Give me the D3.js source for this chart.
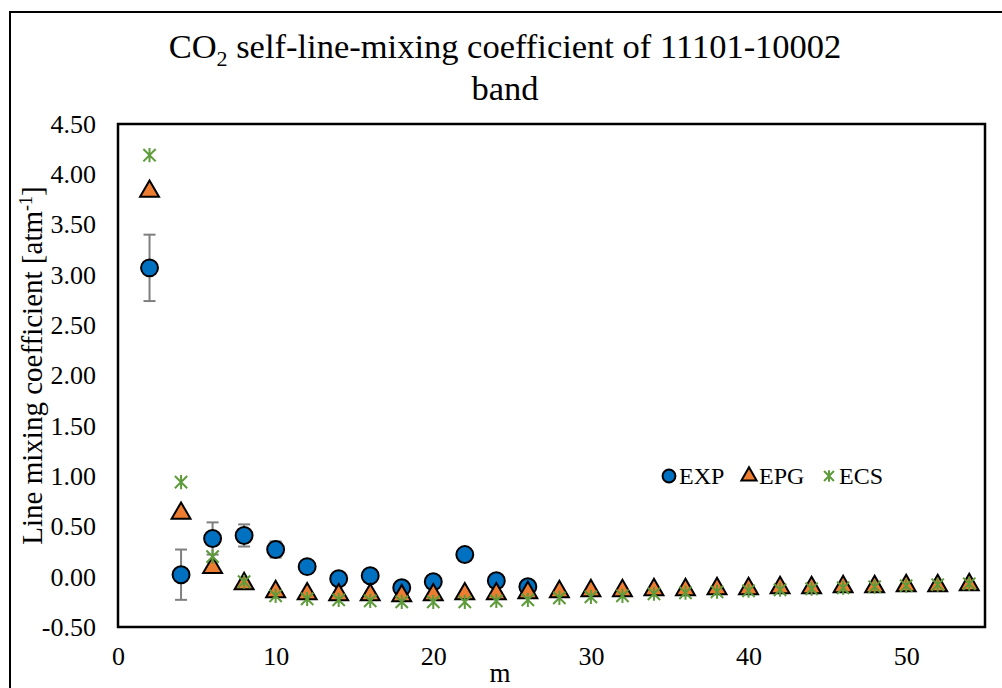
<!DOCTYPE html>
<html>
<head>
<meta charset="utf-8">
<script src="https://cdn.jsdelivr.net/npm/d3@7"></script>
<style>
  body { margin: 0; background: #fff; }
  svg text { fill: #000; }
</style>
</head>
<body>
<div class="chart"></div>
<script>
// data
var expM = [2, 4, 6, 8, 10, 12, 14, 16, 18, 20, 22, 24, 26];
var expVal = [3.07, 0.02, 0.38, 0.41, 0.27, 0.10, -0.02, 0.01, -0.11, -0.05, 0.22, -0.04, -0.10];
var expErr = [0.33, 0.25, 0.16, 0.11, 0.08, 0, 0, 0, 0, 0, 0, 0, 0];

var modelM = [2, 4, 6, 8, 10, 12, 14, 16, 18, 20, 22, 24, 26, 28, 30, 32, 34, 36, 38, 40, 42, 44, 46, 48, 50, 52, 54];
var epgVal = [3.83, 0.63, 0.09, -0.07, -0.15, -0.17, -0.18, -0.18, -0.19, -0.18, -0.17, -0.17, -0.16, -0.15, -0.14, -0.14, -0.13, -0.13, -0.12, -0.12, -0.11, -0.11, -0.10, -0.10, -0.09, -0.09, -0.08];
var ecsVal = [4.19, 0.94, 0.20, -0.05, -0.19, -0.22, -0.23, -0.24, -0.25, -0.25, -0.25, -0.24, -0.23, -0.21, -0.20, -0.19, -0.17, -0.16, -0.15, -0.14, -0.13, -0.12, -0.11, -0.10, -0.09, -0.08, -0.07];

var xTicks = [0, 10, 20, 30, 40, 50];
var yTicks = [-0.5, 0, 0.5, 1, 1.5, 2, 2.5, 3, 3.5, 4, 4.5];

var svgWidth = 1002;
var svgHeight = 688;
var margin = { top: 124, right: 17, bottom: 61, left: 118 };
var width = svgWidth - margin.left - margin.right;
var height = svgHeight - margin.top - margin.bottom;
var serif = "Liberation Serif";

var svg = d3.select(".chart")
  .append("svg")
  .attr("width", svgWidth)
  .attr("height", svgHeight)
  .attr("font-family", serif);

// outer chart frame (runs off right and bottom)
svg.append("rect")
  .attr("x", 10).attr("y", 12)
  .attr("width", 1010).attr("height", 700)
  .attr("fill", "none").attr("stroke", "#000").attr("stroke-width", 2);

var title = svg.append("text")
  .attr("x", 505).attr("y", 58)
  .attr("text-anchor", "middle")
  .attr("font-family", serif)
  .attr("font-size", 34.5);
title.append("tspan").text("CO");
title.append("tspan").attr("dy", 8).attr("font-size", 22).text("2");
title.append("tspan").attr("dy", -8).text(" self-line-mixing coefficient of 11101-10002");

svg.append("text")
  .attr("x", 505).attr("y", 100)
  .attr("text-anchor", "middle")
  .attr("font-family", serif)
  .attr("font-size", 34.5)
  .text("band");

var chart = svg.append("g")
  .attr("transform", "translate(" + margin.left + "," + margin.top + ")");

var x = d3.scaleLinear().domain([0, 55]).range([0, width]);
var y = d3.scaleLinear().domain([-0.5, 4.5]).range([height, 0]);

// plot area frame
chart.append("rect")
  .attr("width", width).attr("height", height)
  .attr("fill", "none").attr("stroke", "#000").attr("stroke-width", 2.5);

var fmtY = function(d) { return d3.format(".2f")(d).replace("\u2212", "-"); };

var xAxis = chart.append("g")
  .attr("transform", "translate(0," + height + ")")
  .call(d3.axisBottom(x).tickValues(xTicks).tickSize(0).tickPadding(20).tickFormat(d3.format("d")));
xAxis.attr("font-family", serif).attr("font-size", 26);
xAxis.select(".domain").remove();

var yAxis = chart.append("g")
  .call(d3.axisLeft(y).tickValues(yTicks).tickSize(0).tickPadding(22).tickFormat(fmtY));
yAxis.attr("font-family", serif).attr("font-size", 26);
yAxis.select(".domain").remove();

svg.append("text")
  .attr("x", 500).attr("y", 682)
  .attr("text-anchor", "middle")
  .attr("font-family", serif)
  .attr("font-size", 27)
  .text("m");

var yLab = svg.append("text")
  .attr("transform", "translate(42," + (margin.top + height / 2 - 10) + ") rotate(-90)")
  .attr("text-anchor", "middle")
  .attr("font-family", serif)
  .attr("font-size", 29);
yLab.append("tspan").text("Line mixing coefficient [atm");
yLab.append("tspan").attr("dy", -10).attr("font-size", 18).text("-1");
yLab.append("tspan").attr("dy", 10).text("]");

var expData = expM.map(function(m, i) { return { m: m, v: expVal[i], e: expErr[i] }; });
var epgData = modelM.map(function(m, i) { return { m: m, v: epgVal[i] }; });
var ecsData = modelM.map(function(m, i) { return { m: m, v: ecsVal[i] }; });

var blue = "#0070C0", orange = "#ED7D31", green = "#5E9B3A", errGrey = "#7F7F7F";

// Excel-style star: an X with a vertical bar
var starType = {
  draw: function(ctx, size) {
    var r = Math.sqrt(size) / 2;
    var k = r * 0.87;
    ctx.moveTo(0, -r); ctx.lineTo(0, r);
    ctx.moveTo(-k, -k); ctx.lineTo(k, k);
    ctx.moveTo(-k, k); ctx.lineTo(k, -k);
  }
};

// error bars
var eb = chart.selectAll(".err")
  .data(expData.filter(function(d) { return d.e > 0; }))
  .enter().append("g").attr("class", "err")
  .attr("stroke", errGrey).attr("stroke-width", 2);
eb.append("line")
  .attr("x1", function(d) { return x(d.m); }).attr("x2", function(d) { return x(d.m); })
  .attr("y1", function(d) { return y(d.v + d.e); }).attr("y2", function(d) { return y(d.v - d.e); });
eb.append("line")
  .attr("x1", function(d) { return x(d.m) - 6; }).attr("x2", function(d) { return x(d.m) + 6; })
  .attr("y1", function(d) { return y(d.v + d.e); }).attr("y2", function(d) { return y(d.v + d.e); });
eb.append("line")
  .attr("x1", function(d) { return x(d.m) - 6; }).attr("x2", function(d) { return x(d.m) + 6; })
  .attr("y1", function(d) { return y(d.v - d.e); }).attr("y2", function(d) { return y(d.v - d.e); });

var circleSym = d3.symbol().type(d3.symbolCircle).size(225);
var triSym = d3.symbol().type(d3.symbolTriangle).size(155);
var starSym = d3.symbol().type(starType).size(200);

chart.selectAll(".exp")
  .data(expData)
  .enter().append("path").attr("class", "exp")
  .attr("d", circleSym)
  .attr("transform", function(d) { return "translate(" + x(d.m) + "," + y(d.v) + ")"; })
  .attr("fill", blue).attr("stroke", "#000").attr("stroke-width", 2);

chart.selectAll(".epg")
  .data(epgData)
  .enter().append("path").attr("class", "epg")
  .attr("d", triSym)
  .attr("transform", function(d) { return "translate(" + x(d.m) + "," + y(d.v) + ")"; })
  .attr("fill", orange).attr("stroke", "#000").attr("stroke-width", 2);

chart.selectAll(".ecs")
  .data(ecsData)
  .enter().append("path").attr("class", "ecs")
  .attr("d", starSym)
  .attr("transform", function(d) { return "translate(" + x(d.m) + "," + y(d.v) + ")"; })
  .attr("fill", "none").attr("stroke", green).attr("stroke-width", 2);

// legend
var legend = svg.append("g").attr("transform", "translate(669,476)");
var legItems = [
  { name: "EXP", sym: d3.symbol().type(d3.symbolCircle).size(130), fill: blue, stroke: "#000" },
  { name: "EPG", sym: d3.symbol().type(d3.symbolTriangle).size(100), fill: orange, stroke: "#000" },
  { name: "ECS", sym: d3.symbol().type(starType).size(130), fill: "none", stroke: green }
];
legItems.forEach(function(it, i) {
  var g = legend.append("g").attr("transform", "translate(" + (i * 80) + ",0)");
  g.append("path").attr("d", it.sym)
    .attr("fill", it.fill).attr("stroke", it.stroke).attr("stroke-width", 2);
  g.append("text").attr("x", 10).attr("y", 8)
    .attr("font-family", serif).attr("font-size", 24).text(it.name);
});
</script>
</body>
</html>
